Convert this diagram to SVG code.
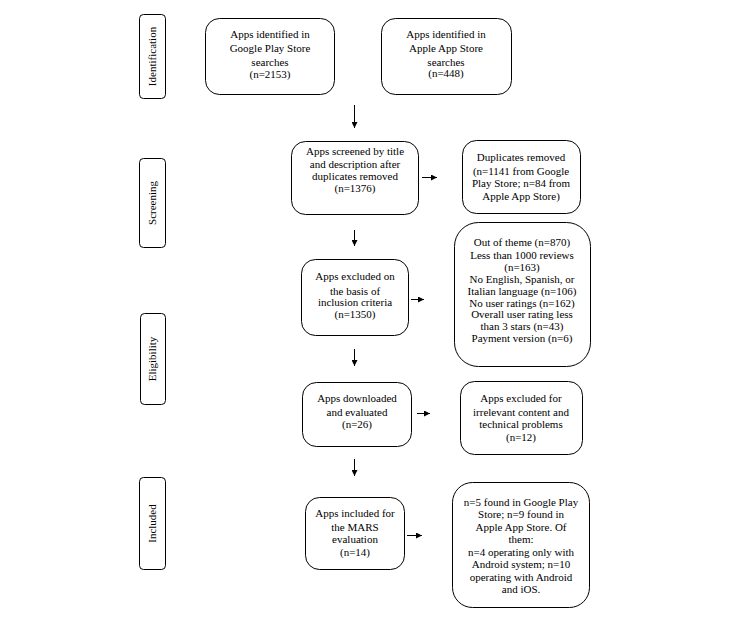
<svg xmlns="http://www.w3.org/2000/svg" width="733" height="640" viewBox="0 0 733 640">
<style>
.box{fill:#fff;stroke:#000;stroke-width:1}
.t{font-family:'Liberation Serif','Times New Roman',Times,serif;font-size:11px;fill:#000;text-anchor:middle}
.c{stroke:#000;stroke-width:1;fill:none;marker-end:url(#ah)}
</style>
<defs>
<marker id="ah" viewBox="0 0 10 10" refX="10" refY="5" markerWidth="6" markerHeight="6" markerUnits="userSpaceOnUse" orient="auto">
<path d="M0,0 L10,5 L0,10 z" fill="#000"/>
</marker>
</defs>
<rect width="733" height="640" fill="#fff"/>
<g id="stage-identification">
<rect class="box" x="139.5" y="14.5" width="26" height="84" rx="4"/>
<text class="t" transform="translate(156,56.5) rotate(-90)">Identification</text>
</g>
<g id="stage-screening">
<rect class="box" x="139.5" y="158.5" width="26" height="89" rx="4"/>
<text class="t" transform="translate(156,203) rotate(-90)">Screening</text>
</g>
<g id="stage-eligibility">
<rect class="box" x="140.5" y="313.5" width="25" height="91" rx="4"/>
<text class="t" transform="translate(156,359) rotate(-90)">Eligibility</text>
</g>
<g id="stage-included">
<rect class="box" x="139.5" y="477.5" width="26" height="92" rx="4"/>
<text class="t" transform="translate(156,523.5) rotate(-90)">Included</text>
</g>
<g id="google">
<rect class="box" x="205.5" y="18.5" width="129" height="76" rx="14"/>
<text class="t" x="270" y="38">Apps identified in</text>
<text class="t" x="270" y="52">Google Play Store</text>
<text class="t" x="270" y="66">searches</text>
<text class="t" x="270" y="78">(n=2153)</text>
</g>
<g id="apple">
<rect class="box" x="381.5" y="18.5" width="130" height="76" rx="14"/>
<text class="t" x="446" y="38">Apps identified in</text>
<text class="t" x="446" y="52">Apple App Store</text>
<text class="t" x="446" y="66">searches</text>
<text class="t" x="446" y="77">(n=448)</text>
</g>
<g id="screened">
<rect class="box" x="291.5" y="141.5" width="127" height="73" rx="14"/>
<text class="t" x="355" y="155">Apps screened by title</text>
<text class="t" x="355" y="167.5">and description after</text>
<text class="t" x="355" y="180">duplicates removed</text>
<text class="t" x="355" y="192">(n=1376)</text>
</g>
<g id="duplicates">
<rect class="box" x="462.5" y="140.5" width="118" height="73" rx="14"/>
<text class="t" x="521" y="161">Duplicates removed</text>
<text class="t" x="521" y="174.5">(n=1141 from Google</text>
<text class="t" x="521" y="187">Play Store; n=84 from</text>
<text class="t" x="521" y="200">Apple App Store)</text>
</g>
<g id="excluded">
<rect class="box" x="301.5" y="259.5" width="107" height="76" rx="14"/>
<text class="t" x="355" y="280">Apps excluded on</text>
<text class="t" x="355" y="295">the basis of</text>
<text class="t" x="355" y="306">inclusion criteria</text>
<text class="t" x="355" y="318">(n=1350)</text>
</g>
<g id="criteria">
<rect class="box" x="454.5" y="222.5" width="136" height="144" rx="24"/>
<text class="t" x="522" y="246">Out of theme (n=870)</text>
<text class="t" x="522" y="259">Less than 1000 reviews</text>
<text class="t" x="522" y="271">(n=163)</text>
<text class="t" x="522" y="282.5">No English, Spanish, or</text>
<text class="t" x="522" y="295">Italian language (n=106)</text>
<text class="t" x="522" y="306.5">No user ratings (n=162)</text>
<text class="t" x="522" y="318">Overall user rating less</text>
<text class="t" x="522" y="330">than 3 stars (n=43)</text>
<text class="t" x="522" y="342">Payment version (n=6)</text>
</g>
<g id="downloaded">
<rect class="box" x="302.5" y="382.5" width="109" height="64" rx="14"/>
<text class="t" x="357" y="402">Apps downloaded</text>
<text class="t" x="357" y="416">and evaluated</text>
<text class="t" x="357" y="428">(n=26)</text>
</g>
<g id="irrelevant">
<rect class="box" x="460.5" y="381.5" width="122" height="73" rx="14"/>
<text class="t" x="521" y="402">Apps excluded for</text>
<text class="t" x="521" y="416">irrelevant content and</text>
<text class="t" x="521" y="428">technical problems</text>
<text class="t" x="521" y="441">(n=12)</text>
</g>
<g id="included">
<rect class="box" x="305.5" y="497.5" width="99" height="72" rx="14"/>
<text class="t" x="355" y="517">Apps included for</text>
<text class="t" x="355" y="531">the MARS</text>
<text class="t" x="355" y="543">evaluation</text>
<text class="t" x="355" y="556">(n=14)</text>
</g>
<g id="final">
<rect class="box" x="452.5" y="482.5" width="137" height="125" rx="20"/>
<text class="t" x="521" y="506">n=5 found in Google Play</text>
<text class="t" x="521" y="518">Store; n=9 found in</text>
<text class="t" x="521" y="531">Apple App Store. Of</text>
<text class="t" x="521" y="543">them:</text>
<text class="t" x="521" y="556">n=4 operating only with</text>
<text class="t" x="521" y="568">Android system; n=10</text>
<text class="t" x="521" y="581">operating with Android</text>
<text class="t" x="521" y="593">and iOS.</text>
</g>
<g id="connectors">
<line class="c" x1="354.5" y1="105" x2="354.5" y2="128"/>
<line class="c" x1="422" y1="177.5" x2="437" y2="177.5"/>
<line class="c" x1="354.5" y1="230" x2="354.5" y2="246"/>
<line class="c" x1="411" y1="299.5" x2="424" y2="299.5"/>
<line class="c" x1="354.5" y1="349" x2="354.5" y2="366"/>
<line class="c" x1="417" y1="413.5" x2="430" y2="413.5"/>
<line class="c" x1="354.5" y1="459" x2="354.5" y2="476"/>
<line class="c" x1="407" y1="535.5" x2="422" y2="535.5"/>
</g>
</svg>
